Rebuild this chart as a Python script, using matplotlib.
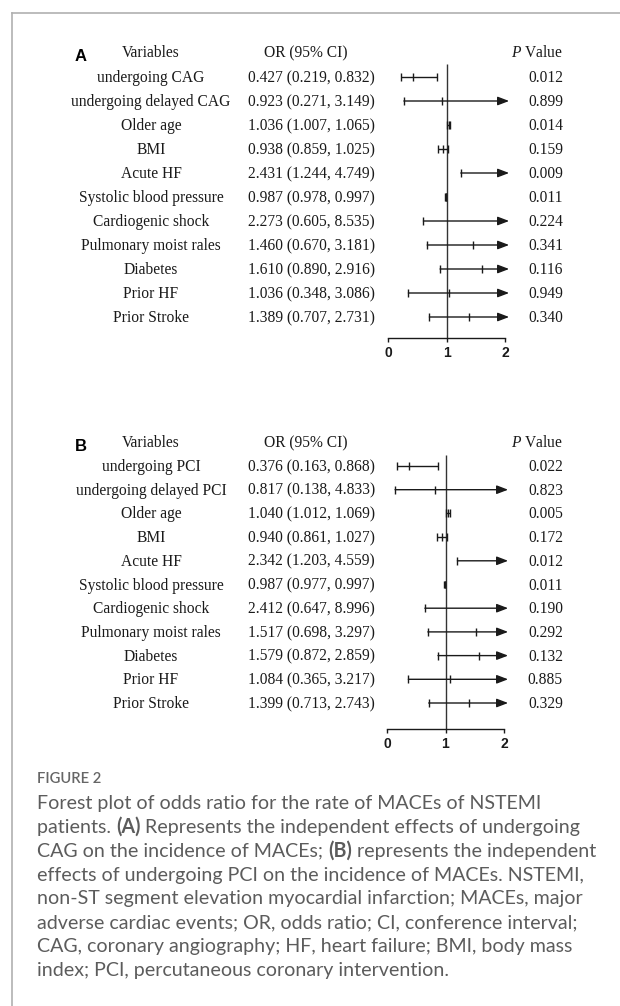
import matplotlib
matplotlib.use("Agg")
import matplotlib.pyplot as plt
from matplotlib import transforms
from matplotlib.lines import Line2D

# ---------------- data ----------------
variables_A = ["undergoing CAG", "undergoing delayed CAG", "Older age", "BMI", "Acute HF",
               "Systolic blood pressure", "Cardiogenic shock", "Pulmonary moist rales",
               "Diabetes", "Prior HF", "Prior Stroke"]
or_A = [0.427, 0.923, 1.036, 0.938, 2.431, 0.987, 2.273, 1.460, 1.610, 1.036, 1.389]
lo_A = [0.219, 0.271, 1.007, 0.859, 1.244, 0.978, 0.605, 0.670, 0.890, 0.348, 0.707]
hi_A = [0.832, 3.149, 1.065, 1.025, 4.749, 0.997, 8.535, 3.181, 2.916, 3.086, 2.731]
p_A = ["0.012", "0.899", "0.014", "0.159", "0.009", "0.011", "0.224", "0.341", "0.116", "0.949", "0.340"]

variables_B = ["undergoing PCI", "undergoing delayed PCI", "Older age", "BMI", "Acute HF",
               "Systolic blood pressure", "Cardiogenic shock", "Pulmonary moist rales",
               "Diabetes", "Prior HF", "Prior Stroke"]
or_B = [0.376, 0.817, 1.040, 0.940, 2.342, 0.987, 2.412, 1.517, 1.579, 1.084, 1.399]
lo_B = [0.163, 0.138, 1.012, 0.861, 1.203, 0.977, 0.647, 0.698, 0.872, 0.365, 0.713]
hi_B = [0.868, 4.833, 1.069, 1.027, 4.559, 0.997, 8.996, 3.297, 2.859, 3.217, 2.743]
p_B = ["0.022", "0.823", "0.005", "0.172", "0.012", "0.011", "0.190", "0.292", "0.132", "0.885", "0.329"]

x_ticks = [0, 1, 2]
x_max = 2
header_cols = ["Variables", "OR (95% CI)", "$\\mathit{P}$ Value"]

caption_title = "FIGURE 2"
caption_lines = [
    [("Forest plot of odds ratio for the rate of MACEs of NSTEMI", False)],
    [("patients. ", False), ("(A)", True), (" Represents the independent effects of undergoing", False)],
    [("CAG on the incidence of MACEs; ", False), ("(B)", True), (" represents the independent", False)],
    [("effects of undergoing PCI on the incidence of MACEs. NSTEMI,", False)],
    [("non-ST segment elevation myocardial infarction; MACEs, major", False)],
    [("adverse cardiac events; OR, odds ratio; CI, conference interval;", False)],
    [("CAG, coronary angiography; HF, heart failure; BMI, body mass", False)],
    [("index; PCI, percutaneous coronary intervention.", False)],
]

# ---------------- style ----------------
plt.rcParams["mathtext.fontset"] = "custom"
plt.rcParams["mathtext.rm"] = "Liberation Serif"
plt.rcParams["mathtext.it"] = "Liberation Serif:italic"
SERIF = "Liberation Serif"
SANS = "Liberation Sans"
CAP_FONT = "Lato"
FS = 11.2
INK = "#1a1a1a"
W, H = 620, 1006

fig = plt.figure(figsize=(W / 100, H / 100), dpi=100)
fig.patch.set_facecolor("white")
renderer = fig.canvas.get_renderer()

# frame lines
fig.add_artist(Line2D([12 / W, 1], [1 - 13 / H, 1 - 13 / H], transform=fig.transFigure,
                      color="#b0b0b0", lw=1.2))
fig.add_artist(Line2D([12 / W, 12 / W], [1 - 13 / H, 0], transform=fig.transFigure,
                      color="#b0b0b0", lw=1.2))

COL_VAR = 151
COL_OR_HDR = 306
COL_OR_RIGHT = 375
COL_P = 563
ARROW_TIP = 2.07


def panel(letter, names, ors, los, his, ps, row1, step, header_y, ref_top, axis_y, x0px, x2px):
    top_px = header_y - 25
    ax = fig.add_axes([x0px / W, 1 - axis_y / H, (x2px - x0px) / W, (axis_y - top_px) / H])
    ax.set_xlim(0, x_max)
    ax.set_ylim((axis_y - row1) / step, (top_px - row1) / step)
    ax.patch.set_alpha(0)
    for s in ["top", "left", "right"]:
        ax.spines[s].set_visible(False)
    ax.spines["bottom"].set_color(INK)
    ax.spines["bottom"].set_linewidth(1)
    ax.set_yticks([])
    ax.set_xticks(x_ticks)
    ax.set_xticklabels([str(t) for t in x_ticks])
    ax.tick_params(axis="x", direction="out", length=3, width=1, color=INK, pad=3,
                   labelsize=10)
    for lbl in ax.get_xticklabels():
        lbl.set_fontweight("bold")
        lbl.set_fontfamily(SANS)
        lbl.set_color(INK)

    bot_idx = (axis_y - row1) / step
    ax.vlines(1, (ref_top - row1) / step, bot_idx, color="#333333", lw=1, clip_on=False)

    cap = 4.0 / step
    for i, (o, lo, hi) in enumerate(zip(ors, los, his)):
        if hi > x_max:
            ax.annotate("", xy=(ARROW_TIP, i), xytext=(lo, i), annotation_clip=False,
                        arrowprops=dict(arrowstyle="-|>,head_length=0.68,head_width=0.26",
                                        mutation_scale=10, lw=1, color=INK,
                                        shrinkA=0, shrinkB=0))
        else:
            ax.hlines(i, lo, hi, color=INK, lw=1, clip_on=False)
            ax.vlines(hi, i - cap, i + cap, color=INK, lw=1, clip_on=False)
        ax.vlines(lo, i - cap, i + cap, color=INK, lw=1, clip_on=False)
        if o <= x_max:
            ax.vlines(o, i - cap, i + cap, color=INK, lw=1, clip_on=False)

    tr = transforms.blended_transform_factory(fig.transFigure, ax.transData)
    bl = 5.0 / step
    hy = (header_y - row1) / step + bl
    ax.text(COL_VAR / W, hy, header_cols[0], transform=tr, ha="center", va="baseline",
            family=SERIF, fontsize=FS, color=INK)
    ax.text(COL_OR_HDR / W, hy, header_cols[1], transform=tr, ha="center", va="baseline",
            family=SERIF, fontsize=FS, color=INK)
    ax.text(COL_P / W, hy, header_cols[2], transform=tr, ha="right", va="baseline",
            family=SERIF, fontsize=FS, color=INK)
    ax.text(75 / W, (header_y + 3 - row1) / step + 6.0 / step, letter, transform=tr,
            ha="left", va="baseline", family=SANS, fontweight="bold", fontsize=12, color="black")

    for i, (n, o, lo, hi, p) in enumerate(zip(names, ors, los, his, ps)):
        ax.text(COL_VAR / W, i + bl, n, transform=tr, ha="center", va="baseline",
                family=SERIF, fontsize=FS, color=INK)
        ax.text(COL_OR_RIGHT / W, i + bl, f"{o:.3f} ({lo:.3f}, {hi:.3f})", transform=tr,
                ha="right", va="baseline", family=SERIF, fontsize=FS, color=INK)
        ax.text(COL_P / W, i + bl, p, transform=tr, ha="right", va="baseline",
                family=SERIF, fontsize=FS, color=INK)
    return ax


panel("A", variables_A, or_A, lo_A, hi_A, p_A, row1=77, step=24, header_y=52,
      ref_top=64, axis_y=338, x0px=388, x2px=505)
panel("B", variables_B, or_B, lo_B, hi_B, p_B, row1=466, step=23.7, header_y=442,
      ref_top=455, axis_y=729, x0px=387, x2px=504)


# ---------------- caption ----------------
def seg_width(segs, size, weight="normal"):
    total = 0
    for txt, bold in segs:
        t = fig.text(0, 0, txt, family=CAP_FONT, fontsize=size,
                     fontweight="bold" if bold else weight)
        total += t.get_window_extent(renderer).width
        t.remove()
    return total


CAP_COLOR = "#5c5c5c"
base = 12.0
CAP_FS = base * 558.0 / seg_width(caption_lines[2], base)
title_fs = 10.0 * 64.0 / seg_width([(caption_title, False)], 10.0, "semibold")

fig.text(37 / W, 1 - 783 / H, caption_title, ha="left", va="baseline", family=CAP_FONT,
         fontsize=title_fs, color="#666666", fontweight="semibold")
y0 = 809
for k, segs in enumerate(caption_lines):
    x = 37
    yb = 1 - (y0 + 23.85 * k) / H
    for txt, bold in segs:
        t = fig.text(x / W, yb, txt, ha="left", va="baseline", family=CAP_FONT,
                     fontsize=CAP_FS, color=CAP_COLOR, fontweight="bold" if bold else "normal")
        x += t.get_window_extent(renderer).width

fig.savefig("out.png", dpi=100, facecolor="white")
